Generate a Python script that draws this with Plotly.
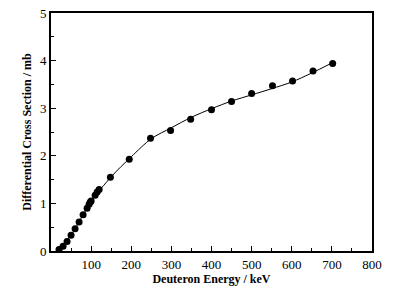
import plotly.graph_objects as go

# Measured data points
energy_keV = [20, 30, 40, 50, 60, 70, 80, 90, 95, 98, 100, 110, 115, 120, 148, 195,
              248, 298, 348, 400, 450, 500, 552, 602, 653, 702]
cross_section_mb = [0.03, 0.10, 0.20, 0.33, 0.47, 0.61, 0.76, 0.90, 0.98, 1.03, 1.05,
                    1.17, 1.24, 1.29, 1.55, 1.93, 2.37, 2.53, 2.77, 2.97, 3.14, 3.31,
                    3.47, 3.57, 3.78, 3.94]

# Fitted curve
fit_energy_keV = [15, 20, 50, 100, 150, 200, 250, 300, 350, 400, 450, 500, 550, 600, 650, 700]
fit_cross_section_mb = [0.0, 0.03, 0.33, 1.04, 1.56, 1.98, 2.36, 2.59, 2.81, 2.99, 3.15,
                        3.28, 3.41, 3.55, 3.74, 3.95]

x_tick_vals = [0, 100, 200, 300, 400, 500, 600, 700, 800]
x_tick_text = ["", "100", "200", "300", "400", "500", "600", "700", "800"]
y_tick_vals = [0, 1, 2, 3, 4, 5]
y_tick_text = ["0", "1", "2", "3", "4", "5"]

fig = go.Figure()
fig.add_trace(go.Scatter(
    x=fit_energy_keV, y=fit_cross_section_mb, mode="lines",
    line=dict(color="black", width=1, shape="spline", smoothing=0.8),
    showlegend=False, hoverinfo="skip"))
fig.add_trace(go.Scatter(
    x=energy_keV, y=cross_section_mb, mode="markers",
    marker=dict(color="black", size=7, symbol="circle"),
    showlegend=False))

serif = "Liberation Serif, Times New Roman, serif"
fig.update_layout(
    width=410, height=298,
    margin=dict(l=51, r=38, t=13, b=47),
    paper_bgcolor="white", plot_bgcolor="white",
    font=dict(family=serif, color="black", size=13),
    xaxis=dict(
        range=[0, 800], tickmode="array", tickvals=x_tick_vals, ticktext=x_tick_text,
        ticks="inside", ticklen=5, tickwidth=1, tickcolor="black",
        minor=dict(dtick=50, ticks="inside", ticklen=3, tickcolor="black", tickwidth=1),
        showline=True, linecolor="black", linewidth=2, mirror=True,
        showgrid=False, zeroline=False, automargin=False,
        tickfont=dict(family=serif, size=13),
        title=dict(text="<b>Deuteron Energy / keV</b>", font=dict(family=serif, size=12), standoff=2),
    ),
    yaxis=dict(
        range=[0, 5], tickmode="array", tickvals=y_tick_vals, ticktext=y_tick_text,
        ticks="inside", ticklen=5, tickwidth=1, tickcolor="black",
        minor=dict(dtick=0.5, ticks="inside", ticklen=3, tickcolor="black", tickwidth=1),
        showline=True, linecolor="black", linewidth=2, mirror=True,
        showgrid=False, zeroline=False, automargin=False,
        tickfont=dict(family=serif, size=13),
        title=dict(text="<b>Differential Cross Section / mb</b>", font=dict(family=serif, size=12), standoff=6),
    ),
)
fig.write_html(
    "out.html",
    config={"displayModeBar": False},
    post_script="document.body.style.margin='0';document.body.style.overflow='hidden';",
)
